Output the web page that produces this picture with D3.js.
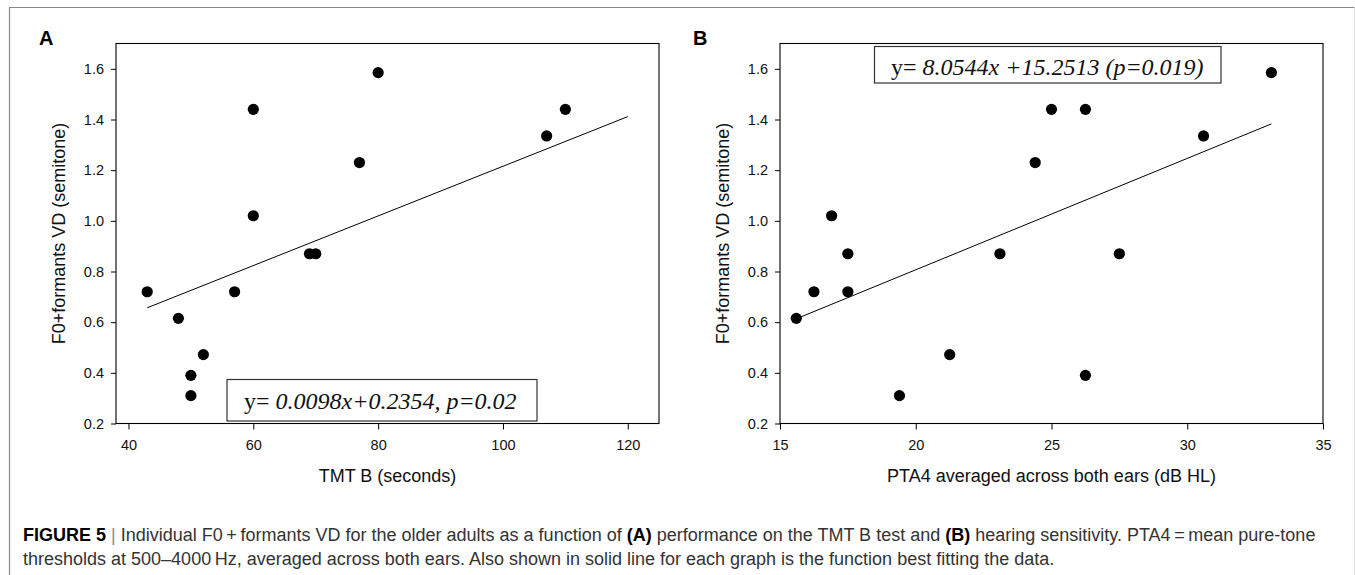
<!DOCTYPE html>
<html>
<head>
<meta charset="utf-8">
<script src="https://cdn.jsdelivr.net/npm/d3@7"></script>
<style>
  body { margin: 0; background: #fff; }
  svg { display: block; }
</style>
</head>
<body>
<div id="chart"></div>
<script>
// Panel A: TMT B (seconds) vs F0+formants VD
const tmtB = [43, 48, 52, 50, 50, 57, 60, 60, 69, 70, 77, 80, 107, 110]
const vdA = [0.72, 0.615, 0.472, 0.39, 0.31, 0.72, 1.44, 1.02, 0.87, 0.87, 1.23, 1.585, 1.335, 1.44]
const fitA = [0.0098, 0.2354]   // slope, intercept as printed
const fitRangeA = [43, 120]

// Panel B: PTA4 (dB HL) vs F0+formants VD
const pta4 = [15.6, 16.25, 16.9, 17.5, 17.5, 19.4, 21.25, 23.1, 24.4, 25.0, 26.25, 26.25, 27.5, 30.6, 33.1]
const vdB = [0.615, 0.72, 1.02, 0.87, 0.72, 0.31, 0.472, 0.87, 1.23, 1.44, 1.44, 0.39, 0.87, 1.335, 1.585]

const yTicks = [0.2, 0.4, 0.6, 0.8, 1.0, 1.2, 1.4, 1.6]
const xTicksA = [40, 60, 80, 100, 120]
const xTicksB = [15, 20, 25, 30, 35]

const width = 1355
const height = 575
const sans = "Arial, 'Liberation Sans', Helvetica, sans-serif"
const serif = "'Times New Roman', 'Liberation Serif', serif"

var svg = d3.select("#chart")
  .append("svg")
  .attr("width", width)
  .attr("height", height)

// Outer frame of the figure card
svg.append("path")
  .attr("d", `M9.5,${height} V7.5 H1354.5`)
  .attr("fill", "none")
  .attr("stroke", "#8a8a8a")
  .attr("stroke-width", 1.2)
svg.append("line")
  .attr("x1", 1354.5).attr("y1", 7.5)
  .attr("x2", 1354.5).attr("y2", height)
  .attr("stroke", "#e2e2e2")

function leastSquares(xs, ys) {
  const mx = d3.mean(xs), my = d3.mean(ys)
  let sxy = 0, sxx = 0
  xs.forEach((x, i) => {
    sxy += (x - mx) * (ys[i] - my)
    sxx += (x - mx) * (x - mx)
  })
  const slope = sxy / sxx
  return [slope, my - slope * mx]
}

function drawPanel(opts) {
  var g = svg.append("g").attr("class", "panel_" + opts.letter)

  var x = d3.scaleLinear().domain(opts.xDomain).range(opts.xRange)
  var y = d3.scaleLinear().domain([0.2, 1.7]).range([423.5, 43.5])

  // plot box
  g.append("rect")
    .attr("x", opts.xRange[0])
    .attr("y", y(1.7))
    .attr("width", opts.xRange[1] - opts.xRange[0])
    .attr("height", y(0.2) - y(1.7))
    .attr("fill", "none")
    .attr("stroke", "#000")
    .attr("stroke-width", 1.1)

  var xAxis = g.append("g")
    .attr("transform", `translate(0,${y(0.2)})`)
    .call(d3.axisBottom(x).tickValues(opts.xTicks).tickSize(6).tickSizeOuter(0).tickPadding(10))
  var yAxis = g.append("g")
    .attr("transform", `translate(${opts.xRange[0]},0)`)
    .call(d3.axisLeft(y).tickValues(yTicks).tickFormat(d3.format(".1f")).tickSize(5).tickSizeOuter(0).tickPadding(7))
  ;[xAxis, yAxis].forEach(a => {
    a.select(".domain").remove()
    a.selectAll("text")
      .attr("font-family", sans)
      .attr("font-size", 14.5)
      .attr("fill", "#111")
    a.selectAll("line").attr("stroke", "#000")
  })

  // axis titles
  g.append("text")
    .attr("x", (opts.xRange[0] + opts.xRange[1]) / 2)
    .attr("y", 482)
    .attr("text-anchor", "middle")
    .attr("font-family", sans)
    .attr("font-size", 18)
    .attr("fill", "#111")
    .text(opts.xLabel)
  g.append("text")
    .attr("transform", `translate(${opts.xRange[0] - 51},${(y(0.2) + y(1.7)) / 2}) rotate(-90)`)
    .attr("text-anchor", "middle")
    .attr("font-family", sans)
    .attr("font-size", 18)
    .attr("fill", "#111")
    .text("F0+formants VD (semitone)")

  // panel letter
  g.append("text")
    .attr("x", opts.letterX)
    .attr("y", 45)
    .attr("font-family", sans)
    .attr("font-weight", "bold")
    .attr("font-size", 20)
    .attr("fill", "#000")
    .text(opts.letter)

  // fitted line
  g.append("line")
    .attr("x1", x(opts.fitRange[0]))
    .attr("y1", y(opts.fit[0] * opts.fitRange[0] + opts.fit[1]))
    .attr("x2", x(opts.fitRange[1]))
    .attr("y2", y(opts.fit[0] * opts.fitRange[1] + opts.fit[1]))
    .attr("stroke", "#000")
    .attr("stroke-width", 1)

  // points
  g.selectAll("circle.pt")
    .data(opts.xs.map((v, i) => [v, opts.ys[i]]))
    .join("circle")
    .attr("class", "pt")
    .attr("cx", d => x(d[0]))
    .attr("cy", d => y(d[1]))
    .attr("r", 5.6)
    .attr("fill", "#000")

  // equation box
  var eq = g.append("g")
  eq.append("rect")
    .attr("x", opts.box[0])
    .attr("y", opts.box[1])
    .attr("width", opts.box[2])
    .attr("height", opts.box[3])
    .attr("fill", "#fff")
    .attr("stroke", "#333")
    .attr("stroke-width", 1.2)
  var t = eq.append("text")
    .attr("x", opts.eqPos[0])
    .attr("y", opts.eqPos[1])
    .attr("font-family", serif)
    .attr("font-size", 24)
    .attr("fill", "#111")
  t.append("tspan").text("y= ")
  t.append("tspan").attr("font-style", "italic").text(opts.eqText)
}

drawPanel({
  letter: "A", letterX: 39,
  xDomain: [38, 125], xRange: [116, 659], xTicks: xTicksA,
  xLabel: "TMT B (seconds)",
  xs: tmtB, ys: vdA,
  fit: fitA, fitRange: fitRangeA,
  box: [227, 379.5, 310, 41.5], eqPos: [244, 409],
  eqText: "0.0098x+0.2354, p=0.02"
})

drawPanel({
  letter: "B", letterX: 693,
  xDomain: [15, 35], xRange: [780, 1323], xTicks: xTicksB,
  xLabel: "PTA4 averaged across both ears (dB HL)",
  xs: pta4, ys: vdB,
  fit: leastSquares(pta4, vdB), fitRange: d3.extent(pta4),
  box: [874.5, 46.5, 346.5, 36.5], eqPos: [891, 75],
  eqText: "8.0544x +15.2513 (p=0.019)"
})

// Caption
var cap = svg.append("text")
  .attr("font-family", sans)
  .attr("font-size", 18)
  .attr("fill", "#333")
var l1 = cap.append("tspan").attr("x", 23).attr("y", 541)
l1.append("tspan").attr("font-weight", "bold").attr("fill", "#000").text("FIGURE 5")
l1.append("tspan").attr("fill", "#888").text("  |  ")
l1.append("tspan").text("Individual F0\u2009+\u2009formants VD for the older adults as a function of ")
l1.append("tspan").attr("font-weight", "bold").attr("fill", "#000").text("(A)")
l1.append("tspan").text(" performance on the TMT B test and ")
l1.append("tspan").attr("font-weight", "bold").attr("fill", "#000").text("(B)")
l1.append("tspan").text(" hearing sensitivity. PTA4\u2009=\u2009mean pure-tone")
cap.append("tspan").attr("x", 23).attr("y", 565)
  .text("thresholds at 500\u20134000\u2009Hz, averaged across both ears. Also shown in solid line for each graph is the function best fitting the data.")
</script>
</body>
</html>
